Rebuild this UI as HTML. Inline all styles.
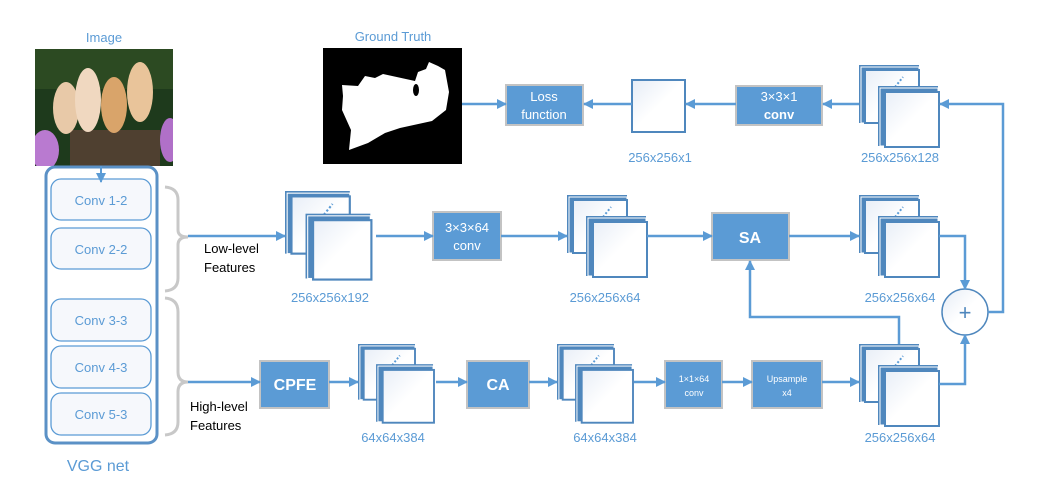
<!DOCTYPE html>
<html><head><meta charset="utf-8"><style>
html,body{margin:0;padding:0;background:#fff;}
svg{display:block;font-family:"Liberation Sans","DejaVu Sans",sans-serif;}
</style></head><body>
<svg width="1042" height="484" viewBox="0 0 1042 484" xmlns="http://www.w3.org/2000/svg">
<defs>
<marker id="ar" markerWidth="10" markerHeight="10" refX="9" refY="5" orient="auto" markerUnits="userSpaceOnUse">
<path d="M0,0 L10,5 L0,10 z" fill="#5b9bd5"/></marker>
<linearGradient id="wg" x1="0" y1="0" x2="1" y2="1"><stop offset="0" stop-color="#e8eef7"/><stop offset="0.5" stop-color="#fff"/></linearGradient>
<clipPath id="cimg"><rect x="35" y="49" width="138" height="117"/></clipPath>
<g id="stk">
<rect x="0" y="0" width="60" height="58" fill="#4f87bd"/>
<rect x="2" y="2" width="58" height="56" fill="none" stroke="#fff" stroke-width="1"/>
<rect x="6" y="5" width="54" height="53" fill="url(#wg)" stroke="#4f87bd" stroke-width="2"/>
<path d="M36,22 L44,12" stroke="#5b9bd5" stroke-width="2" stroke-dasharray="2,2"/>
<rect x="19" y="21" width="60" height="60" fill="#4f87bd"/>
<rect x="21" y="23" width="58" height="58" fill="none" stroke="#fff" stroke-width="1"/>
<rect x="26" y="27" width="54" height="55" fill="url(#wg)" stroke="#4f87bd" stroke-width="2"/>
</g>
<linearGradient id="bx" x1="0" y1="0" x2="1" y2="1"><stop offset="0" stop-color="#e5ecf6"/><stop offset="0.5" stop-color="#fff"/></linearGradient>
</defs>

<g fill="#5b9bd5" font-size="13" text-anchor="middle">
<text x="104" y="42">Image</text>
<text x="393" y="41">Ground Truth</text>
</g>

<!-- cat image -->
<g clip-path="url(#cimg)">
<rect x="35" y="49" width="138" height="117" fill="#1e3a1c"/>
<rect x="35" y="49" width="138" height="40" fill="#2c4a22"/>
<rect x="70" y="130" width="90" height="36" fill="#4f4030"/>
<ellipse cx="45" cy="150" rx="14" ry="20" fill="#b97ad0"/>
<ellipse cx="170" cy="140" rx="10" ry="22" fill="#b070c8"/>
<ellipse cx="66" cy="108" rx="13" ry="26" fill="#e8c9a8"/>
<ellipse cx="88" cy="100" rx="13" ry="32" fill="#f0d8c0"/>
<ellipse cx="114" cy="105" rx="13" ry="28" fill="#d9a46a"/>
<ellipse cx="140" cy="92" rx="13" ry="30" fill="#e9c49a"/>
</g>

<!-- ground truth -->
<rect x="323" y="48" width="139" height="116" fill="#000"/>
<path d="M342,85 L358,86 L365,76 L375,78 L383,74 L415,81 L418,72 L426,69 L429,62 L438,66 L445,70 L449,92 L446,110 L432,121 L400,128 L385,133 L368,143 L349,150 L351,130 L342,110 L343,96 z" fill="#fff"/>
<ellipse cx="416" cy="90" rx="3" ry="6" fill="#000"/>

<!-- VGG -->
<rect x="46" y="167" width="111" height="276" rx="9" fill="#fff" stroke="#5b91c6" stroke-width="3"/>
<g fill="#f6f8fc" stroke="#5b9bd5" stroke-width="1.3">
<rect x="51" y="179" width="100" height="41" rx="10"/>
<rect x="51" y="228" width="100" height="41" rx="10"/>
<rect x="51" y="299" width="100" height="42" rx="10"/>
<rect x="51" y="346" width="100" height="42" rx="10"/>
<rect x="51" y="393" width="100" height="42" rx="10"/>
</g>
<g fill="#5b9bd5" font-size="13" text-anchor="middle">
<text x="101" y="205">Conv 1-2</text>
<text x="101" y="254">Conv 2-2</text>
<text x="101" y="325">Conv 3-3</text>
<text x="101" y="372">Conv 4-3</text>
<text x="101" y="419">Conv 5-3</text>
<text x="98" y="471" font-size="16">VGG net</text>
</g>
<line x1="101" y1="166" x2="101" y2="182" stroke="#5b9bd5" stroke-width="2" marker-end="url(#ar)"/>

<!-- braces -->
<g fill="none" stroke="#c8c8c8" stroke-width="3">
<path d="M165,187 Q178,188 178,200 L178,230 Q178,237 188,237 Q178,237 178,245 L178,278 Q178,290 165,291"/>
<path d="M165,298 Q178,299 178,312 L178,372 Q178,382 188,382 Q178,382 178,392 L178,422 Q178,434 165,435"/>
</g>
<g font-size="13" fill="#000">
<text x="204" y="253">Low-level</text><text x="204" y="272">Features</text>
<text x="190" y="411">High-level</text><text x="190" y="430">Features</text>
</g>

<!-- stacks -->
<use href="#stk" transform="translate(285,191) scale(1.08)"/>
<use href="#stk" x="567" y="195"/>
<use href="#stk" x="859" y="195"/>
<use href="#stk" x="859" y="65"/>
<use href="#stk" x="859" y="344"/>
<use href="#stk" transform="translate(358,344) scale(0.95,0.96)"/>
<use href="#stk" transform="translate(557,344) scale(0.95,0.96)"/>

<!-- plain box -->
<rect x="632" y="80" width="53" height="52" fill="url(#bx)" stroke="#4f87bd" stroke-width="2"/>

<!-- blue boxes -->
<g fill="#5b9bd5" stroke="#c3c3c3" stroke-width="2">
<rect x="506" y="85" width="77" height="40"/>
<rect x="736" y="86" width="86" height="39"/>
<rect x="433" y="212" width="68" height="48"/>
<rect x="712" y="213" width="77" height="47"/>
<rect x="260" y="361" width="69" height="47"/>
<rect x="467" y="361" width="62" height="47"/>
<rect x="665" y="361" width="57" height="47"/>
<rect x="752" y="361" width="70" height="47"/>
</g>
<g fill="#fff" text-anchor="middle" font-size="13">
<text x="544" y="101">Loss</text><text x="544" y="119">function</text>
<text x="779" y="101">3×3×1</text><text x="779" y="119" font-weight="bold">conv</text>
<text x="467" y="232">3×3×64</text><text x="467" y="250">conv</text>
<text x="750" y="243" font-size="16" font-weight="bold">SA</text>
<text x="295" y="390" font-size="16" font-weight="bold">CPFE</text>
<text x="498" y="390" font-size="16" font-weight="bold">CA</text>
<text x="694" y="382" font-size="9">1×1×64</text><text x="694" y="396" font-size="9">conv</text>
<text x="787" y="382" font-size="9">Upsample</text><text x="787" y="396" font-size="9">x4</text>
</g>

<!-- plus -->
<circle cx="965" cy="312" r="23" fill="url(#bx)" stroke="#4f87bd" stroke-width="1.5"/>
<text x="965" y="320" text-anchor="middle" font-size="22" fill="#4f87bd">+</text>

<!-- labels -->
<g fill="#5b9bd5" font-size="13" text-anchor="middle">
<text x="660" y="162">256x256x1</text>
<text x="900" y="162">256x256x128</text>
<text x="330" y="302">256x256x192</text>
<text x="605" y="302">256x256x64</text>
<text x="900" y="302">256x256x64</text>
<text x="393" y="442">64x64x384</text>
<text x="605" y="442">64x64x384</text>
<text x="900" y="442">256x256x64</text>
</g>

<!-- arrows -->
<g fill="none" stroke="#5b9bd5" stroke-width="2.5" marker-end="url(#ar)">
<line x1="462" y1="104" x2="506" y2="104"/>
<line x1="632" y1="104" x2="584" y2="104"/>
<line x1="736" y1="104" x2="686" y2="104"/>
<line x1="859" y1="104" x2="823" y2="104"/>
<polyline points="988,312 1003,312 1003,104 940,104"/>
<line x1="188" y1="236" x2="285" y2="236"/>
<line x1="376" y1="236" x2="433" y2="236"/>
<line x1="501" y1="236" x2="567" y2="236"/>
<line x1="647" y1="236" x2="712" y2="236"/>
<line x1="789" y1="236" x2="859" y2="236"/>
<polyline points="939,236 965,236 965,289"/>
<polyline points="939,384 965,384 965,335"/>
<polyline points="899,344 899,317 750,317 750,261"/>
<line x1="188" y1="382" x2="260" y2="382"/>
<line x1="329" y1="382" x2="358" y2="382"/>
<line x1="436" y1="382" x2="467" y2="382"/>
<line x1="529" y1="382" x2="557" y2="382"/>
<line x1="634" y1="382" x2="665" y2="382"/>
<line x1="722" y1="382" x2="752" y2="382"/>
<line x1="822" y1="382" x2="859" y2="382"/>
</g>
</svg>
</body></html>
